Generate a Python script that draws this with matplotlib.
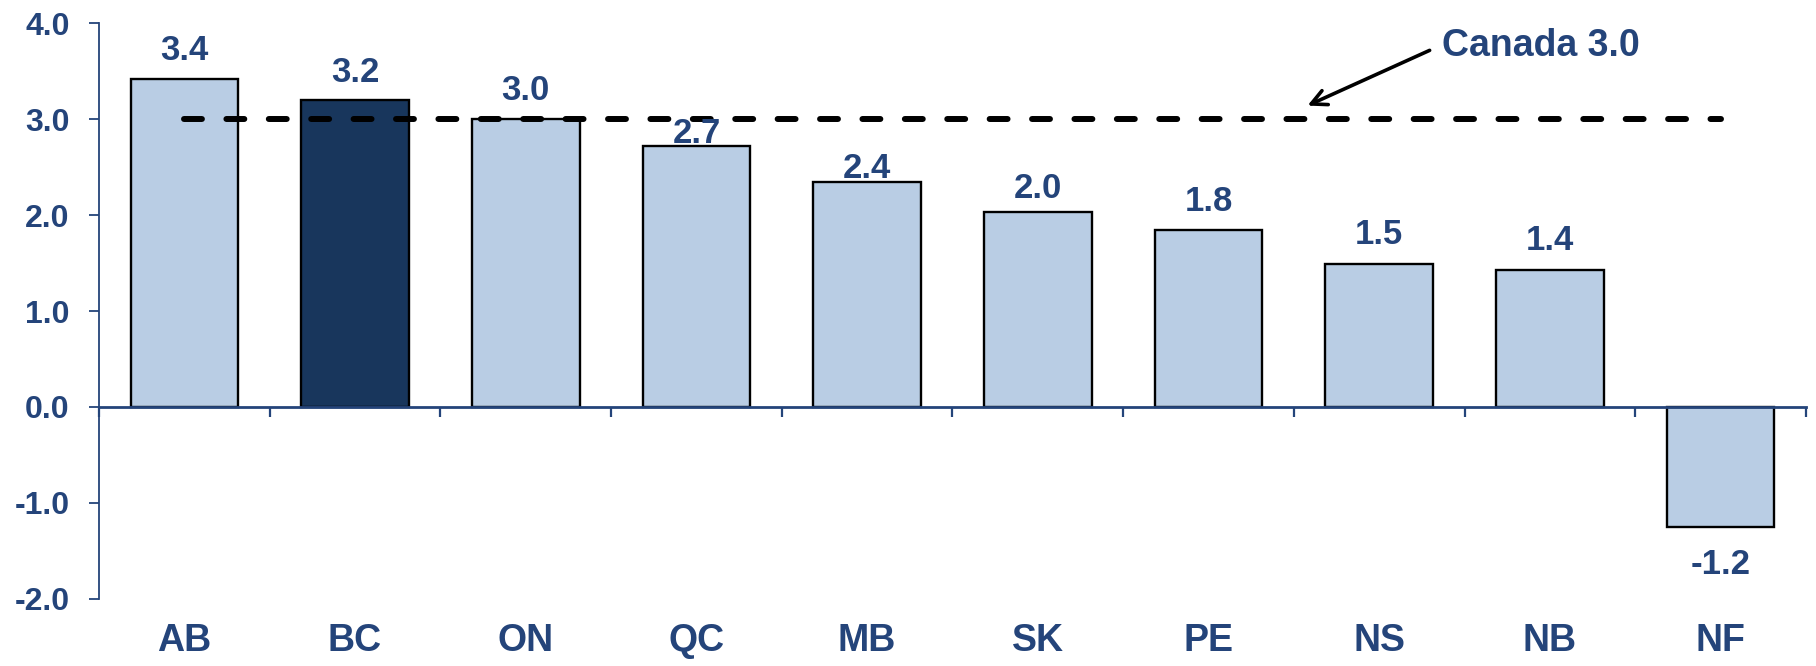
import numpy as np
import matplotlib.pyplot as plt

plt.rcParams['font.family'] = ['Liberation Sans', 'DejaVu Sans']
plt.rcParams['font.weight'] = 'bold'

#%% data
provinces = ['AB', 'BC', 'ON', 'QC', 'MB', 'SK', 'PE', 'NS', 'NB', 'NF']
growth = [3.42, 3.20, 3.0, 2.72, 2.35, 2.03, 1.84, 1.49, 1.43, -1.25]
labels = ['3.4', '3.2', '3.0', '2.7', '2.4', '2.0', '1.8', '1.5', '1.4', '-1.2']
canada = 3.0
yticks = [-2.0, -1.0, 0.0, 1.0, 2.0, 3.0, 4.0]

#%% style
txt_col = '#24447A'
light = '#B9CDE4'
dark = '#18365C'
label_gap_px = [19, 18, 19, 3, 4, 14, 19, 20, 20, 21]  # label distance from bar end

fig = plt.figure(figsize=(18.16, 6.66), dpi=100)
ax = fig.add_axes([0.0545, 0.101, 0.94, 0.864])

x = np.arange(len(provinces))
colors = [dark if p == 'BC' else light for p in provinces]
ax.bar(x, growth, width=0.63, color=colors, edgecolor='black', linewidth=1.7, zorder=2)

# Canada average line
ax.plot([0.0, 9.0], [canada, canada], color='black', lw=4.3,
        dashes=(3.0, 4.1), dash_capstyle='round', zorder=3)

for xi, v, lab, g in zip(x, growth, labels, label_gap_px):
    off = g * 0.72
    if v >= 0:
        ax.annotate(lab, (xi, v), xytext=(0, off), textcoords='offset points',
                    ha='center', va='baseline', fontsize=25, color=txt_col, fontweight='bold')
    else:
        ax.annotate(lab, (xi, v), xytext=(0, -off), textcoords='offset points',
                    ha='center', va='top', fontsize=25, color=txt_col, fontweight='bold')

ax.annotate('', xy=(6.565, 3.13), xytext=(7.31, 3.73),
            arrowprops=dict(arrowstyle='->,head_length=1.1,head_width=0.55', lw=2.6, color='black'))
ax.text(7.37, 3.76, 'Canada 3.0', fontsize=27, color=txt_col, fontweight='bold',
        ha='left', va='center')

ax.set_xlim(-0.5, 9.5)
ax.set_ylim(-2.0, 4.0)
ax.set_yticks(yticks)
ax.set_yticklabels(['{:.1f}'.format(t) for t in yticks], fontsize=23, color=txt_col, fontweight='bold')

ax.set_xticks(np.arange(-0.5, 10, 1.0))
ax.set_xticklabels([])
for xi, p in zip(x, provinces):
    ax.text(xi, -0.073, p, transform=ax.get_xaxis_transform(), ha='center', va='center',
            fontsize=27, color=txt_col, fontweight='bold')

for s in ['top', 'right']:
    ax.spines[s].set_visible(False)
ax.spines['bottom'].set_position(('data', 0))
ax.spines['left'].set_color(txt_col)
ax.spines['bottom'].set_color(txt_col)
ax.spines['left'].set_linewidth(1.3)
ax.spines['bottom'].set_linewidth(2.0)
ax.spines['bottom'].set_zorder(4)
ax.tick_params(axis='y', direction='out', length=7, width=1.3, color=txt_col, pad=14)
ax.tick_params(axis='x', direction='out', length=7, width=1.6, color=txt_col)

fig.savefig('out.png', dpi=100)
